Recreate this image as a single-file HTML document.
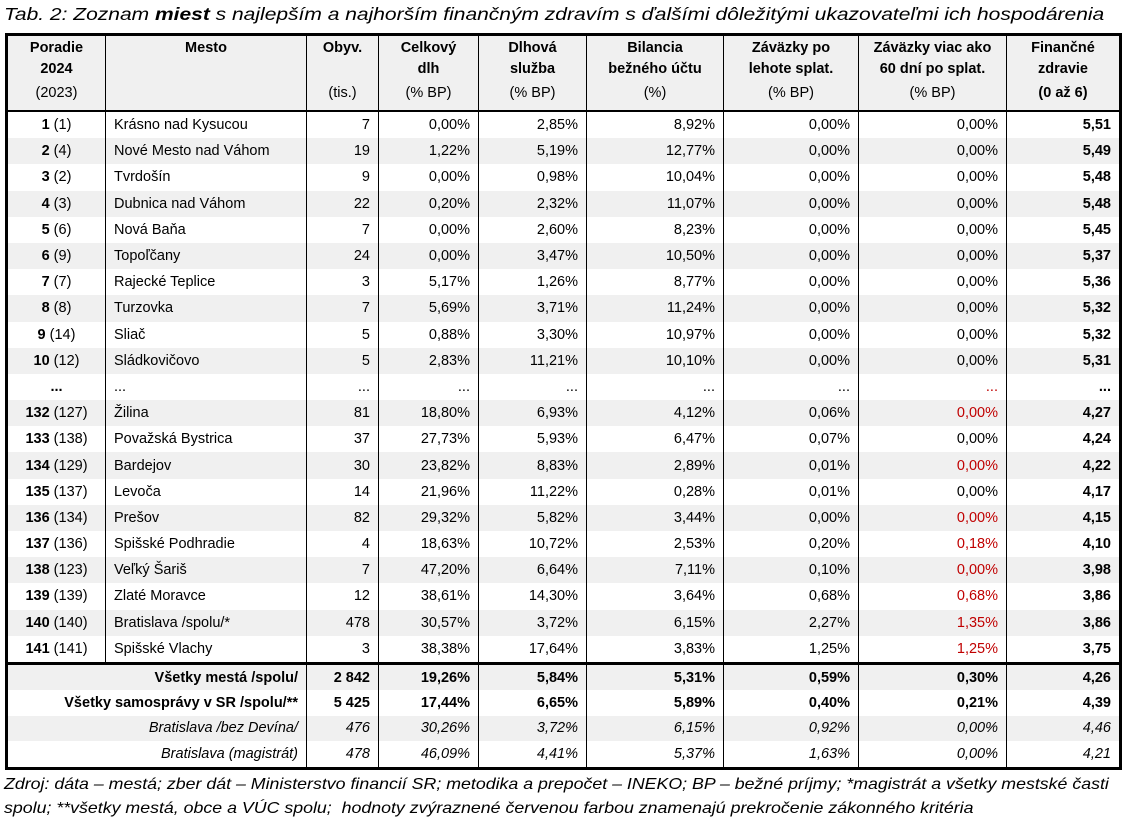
<!DOCTYPE html>
<html><head><meta charset="utf-8">
<style>
body{margin:0;width:1128px;height:822px;background:#fff;font-family:"Liberation Sans",Arial,sans-serif;position:relative;overflow:hidden}
.title{position:absolute;left:4px;top:4px;font-size:17.5px;font-style:italic;color:#000;white-space:nowrap;transform-origin:0 0;transform:scaleX(1.2)}
.foot{position:absolute;left:4px;font-size:16px;font-style:italic;white-space:nowrap;transform-origin:0 0;transform:scaleX(1.11)}
table{position:absolute;left:5px;top:33px;border-collapse:collapse;border:3px solid #000;font-size:14.5px;table-layout:fixed}
td{padding:0 8px;height:26.2px;border-left:1px solid #000;border-right:1px solid #000;white-space:nowrap;text-align:right}
tr.g td{background:#f0f0f0}
thead td{background:#f0f0f0;text-align:center;vertical-align:top;height:72px;border-bottom:2px solid #000;font-weight:bold;line-height:21px;padding-top:2px}
thead td i{display:block;font-style:normal;font-weight:normal;margin-top:3px}
td.c{text-align:center}
td.l{text-align:left}
.r{color:#c00000}
b{font-weight:bold}
tr.top td{border-top:3px solid #000}
tr.s td{height:25.4px}
</style></head><body>
<div class="title">Tab. 2: Zoznam <b>miest</b> s najlepším a najhorším finančným zdravím s ďalšími dôležitými ukazovateľmi ich hospodárenia</div>
<table>
<colgroup><col style="width:99px"><col style="width:201px"><col style="width:72px"><col style="width:100px"><col style="width:108px"><col style="width:137px"><col style="width:135px"><col style="width:148px"><col style="width:114px"></colgroup>
<thead><tr>
<td>Poradie<br>2024<i>(2023)</i></td>
<td>Mesto</td>
<td>Obyv.<br>&nbsp;<i>(tis.)</i></td>
<td>Celkový<br>dlh<i>(% BP)</i></td>
<td>Dlhová<br>služba<i>(% BP)</i></td>
<td>Bilancia<br>bežného účtu<i>(%)</i></td>
<td>Záväzky po<br>lehote splat.<i>(% BP)</i></td>
<td>Záväzky viac ako<br>60 dní po splat.<i>(% BP)</i></td>
<td>Finančné<br>zdravie<br><span style="display:block;margin-top:3px">(0 až 6)</span></td>
</tr></thead>
<tbody>
<tr><td class="c"><b>1</b> (1)</td><td class="l">Krásno nad Kysucou</td><td>7</td><td>0,00%</td><td>2,85%</td><td>8,92%</td><td>0,00%</td><td>0,00%</td><td><b>5,51</b></td></tr>
<tr class="g"><td class="c"><b>2</b> (4)</td><td class="l">Nové Mesto nad Váhom</td><td>19</td><td>1,22%</td><td>5,19%</td><td>12,77%</td><td>0,00%</td><td>0,00%</td><td><b>5,49</b></td></tr>
<tr><td class="c"><b>3</b> (2)</td><td class="l">Tvrdošín</td><td>9</td><td>0,00%</td><td>0,98%</td><td>10,04%</td><td>0,00%</td><td>0,00%</td><td><b>5,48</b></td></tr>
<tr class="g"><td class="c"><b>4</b> (3)</td><td class="l">Dubnica nad Váhom</td><td>22</td><td>0,20%</td><td>2,32%</td><td>11,07%</td><td>0,00%</td><td>0,00%</td><td><b>5,48</b></td></tr>
<tr><td class="c"><b>5</b> (6)</td><td class="l">Nová Baňa</td><td>7</td><td>0,00%</td><td>2,60%</td><td>8,23%</td><td>0,00%</td><td>0,00%</td><td><b>5,45</b></td></tr>
<tr class="g"><td class="c"><b>6</b> (9)</td><td class="l">Topoľčany</td><td>24</td><td>0,00%</td><td>3,47%</td><td>10,50%</td><td>0,00%</td><td>0,00%</td><td><b>5,37</b></td></tr>
<tr><td class="c"><b>7</b> (7)</td><td class="l">Rajecké Teplice</td><td>3</td><td>5,17%</td><td>1,26%</td><td>8,77%</td><td>0,00%</td><td>0,00%</td><td><b>5,36</b></td></tr>
<tr class="g"><td class="c"><b>8</b> (8)</td><td class="l">Turzovka</td><td>7</td><td>5,69%</td><td>3,71%</td><td>11,24%</td><td>0,00%</td><td>0,00%</td><td><b>5,32</b></td></tr>
<tr><td class="c"><b>9</b> (14)</td><td class="l">Sliač</td><td>5</td><td>0,88%</td><td>3,30%</td><td>10,97%</td><td>0,00%</td><td>0,00%</td><td><b>5,32</b></td></tr>
<tr class="g"><td class="c"><b>10</b> (12)</td><td class="l">Sládkovičovo</td><td>5</td><td>2,83%</td><td>11,21%</td><td>10,10%</td><td>0,00%</td><td>0,00%</td><td><b>5,31</b></td></tr>
<tr><td class="c"><b>...</b></td><td class="l">...</td><td>...</td><td>...</td><td>...</td><td>...</td><td>...</td><td class="r">...</td><td><b>...</b></td></tr>
<tr class="g"><td class="c"><b>132</b> (127)</td><td class="l">Žilina</td><td>81</td><td>18,80%</td><td>6,93%</td><td>4,12%</td><td>0,06%</td><td class="r">0,00%</td><td><b>4,27</b></td></tr>
<tr><td class="c"><b>133</b> (138)</td><td class="l">Považská Bystrica</td><td>37</td><td>27,73%</td><td>5,93%</td><td>6,47%</td><td>0,07%</td><td>0,00%</td><td><b>4,24</b></td></tr>
<tr class="g"><td class="c"><b>134</b> (129)</td><td class="l">Bardejov</td><td>30</td><td>23,82%</td><td>8,83%</td><td>2,89%</td><td>0,01%</td><td class="r">0,00%</td><td><b>4,22</b></td></tr>
<tr><td class="c"><b>135</b> (137)</td><td class="l">Levoča</td><td>14</td><td>21,96%</td><td>11,22%</td><td>0,28%</td><td>0,01%</td><td>0,00%</td><td><b>4,17</b></td></tr>
<tr class="g"><td class="c"><b>136</b> (134)</td><td class="l">Prešov</td><td>82</td><td>29,32%</td><td>5,82%</td><td>3,44%</td><td>0,00%</td><td class="r">0,00%</td><td><b>4,15</b></td></tr>
<tr><td class="c"><b>137</b> (136)</td><td class="l">Spišské Podhradie</td><td>4</td><td>18,63%</td><td>10,72%</td><td>2,53%</td><td>0,20%</td><td class="r">0,18%</td><td><b>4,10</b></td></tr>
<tr class="g"><td class="c"><b>138</b> (123)</td><td class="l">Veľký Šariš</td><td>7</td><td>47,20%</td><td>6,64%</td><td>7,11%</td><td>0,10%</td><td class="r">0,00%</td><td><b>3,98</b></td></tr>
<tr><td class="c"><b>139</b> (139)</td><td class="l">Zlaté Moravce</td><td>12</td><td>38,61%</td><td>14,30%</td><td>3,64%</td><td>0,68%</td><td class="r">0,68%</td><td><b>3,86</b></td></tr>
<tr class="g"><td class="c"><b>140</b> (140)</td><td class="l">Bratislava /spolu/*</td><td>478</td><td>30,57%</td><td>3,72%</td><td>6,15%</td><td>2,27%</td><td class="r">1,35%</td><td><b>3,86</b></td></tr>
<tr><td class="c"><b>141</b> (141)</td><td class="l">Spišské Vlachy</td><td>3</td><td>38,38%</td><td>17,64%</td><td>3,83%</td><td>1,25%</td><td class="r">1,25%</td><td><b>3,75</b></td></tr>
<tr class="g top s"><td colspan="2"><b>Všetky mestá /spolu/</b></td><td><b>2 842</b></td><td><b>19,26%</b></td><td><b>5,84%</b></td><td><b>5,31%</b></td><td><b>0,59%</b></td><td><b>0,30%</b></td><td><b>4,26</b></td></tr>
<tr class="s"><td colspan="2"><b>Všetky samosprávy v SR /spolu/**</b></td><td><b>5 425</b></td><td><b>17,44%</b></td><td><b>6,65%</b></td><td><b>5,89%</b></td><td><b>0,40%</b></td><td><b>0,21%</b></td><td><b>4,39</b></td></tr>
<tr class="g s"><td colspan="2"><i>Bratislava /bez Devína/</i></td><td><i>476</i></td><td><i>30,26%</i></td><td><i>3,72%</i></td><td><i>6,15%</i></td><td><i>0,92%</i></td><td><i>0,00%</i></td><td><i>4,46</i></td></tr>
<tr class="s"><td colspan="2"><i>Bratislava (magistrát)</i></td><td><i>478</i></td><td><i>46,09%</i></td><td><i>4,41%</i></td><td><i>5,37%</i></td><td><i>1,63%</i></td><td><i>0,00%</i></td><td><i>4,21</i></td></tr>
</tbody></table>
<div class="foot" style="top:776px">Zdroj: dáta – mestá; zber dát – Ministerstvo financií SR; metodika a prepočet – INEKO; BP – bežné príjmy; *magistrát a všetky mestské časti</div>
<div class="foot" style="top:800px">spolu; **všetky mestá, obce a VÚC spolu;&nbsp; hodnoty zvýraznené červenou farbou znamenajú prekročenie zákonného kritéria</div>
</body></html>
